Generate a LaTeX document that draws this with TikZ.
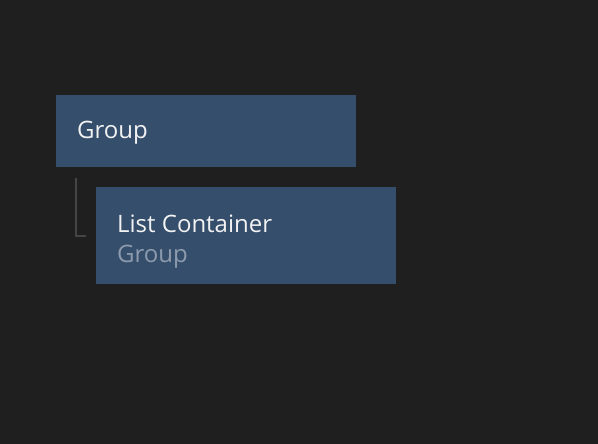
\documentclass[tikz,border=0pt]{standalone}
\usepackage{fontspec}
\setmainfont{Open Sans}
\usetikzlibrary{positioning}
\definecolor{bgdark}{HTML}{1F1F1F}
\definecolor{boxblue}{HTML}{344E6C}
\definecolor{titlewhite}{HTML}{F2F2F2}
\definecolor{subgray}{HTML}{8D9BAD}
\definecolor{treeline}{HTML}{454545}
\tikzset{
  layerbox/.style={fill=boxblue, draw=none, anchor=north west, inner sep=0pt,
    minimum width=300pt, outer sep=0pt},
  title/.style={anchor=base west, inner sep=0pt, text=titlewhite, font=\fontsize{24}{28}\selectfont},
  subtitle/.style={anchor=base west, inner sep=0pt, text=subgray, font=\fontsize{24}{28}\selectfont},
  tree/.style={draw=treeline, line width=2pt}
}
\begin{document}
\begin{tikzpicture}[x=1pt, y=-1pt]
  \fill[bgdark] (0,0) rectangle (598,444);
  \useasboundingbox (0,0) rectangle (598,444);
  % parent layer
  \node[layerbox, minimum height=72pt] (grp) at (56,95) {};
  \node[title] (grptext) at (77,139) {Group};
  % child layer
  \node[layerbox, minimum height=97pt] (list) at (96,187) {};
  \node[title] (listtext) at (117,232) {List Container};
  \node[subtitle] (listsub) at (117,262) {Group};
  % tree connector
  \coordinate (branch) at (75.5,177.5);
  \coordinate (elbow) at (86,235.5);
  \draw[tree] (branch) |- (elbow);
\end{tikzpicture}
\end{document}
